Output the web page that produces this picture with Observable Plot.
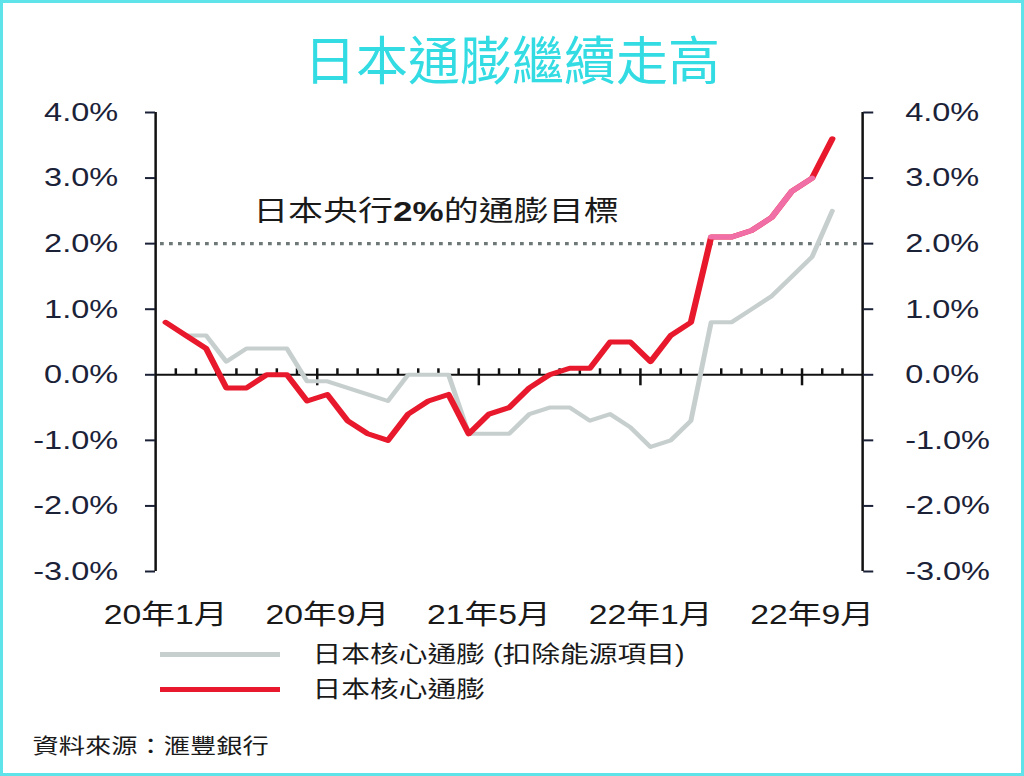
<!DOCTYPE html>
<html><head><meta charset="utf-8">
<script src="https://cdn.jsdelivr.net/npm/d3@7"></script>
<script src="https://cdn.jsdelivr.net/npm/@observablehq/plot@0.6"></script>
<style>
body{margin:0;background:#fff;}
#page{position:relative;width:1024px;height:776px;overflow:hidden;background:#fff;font-family:"Liberation Sans",Arial,"Noto Sans CJK TC",sans-serif;}
#frame{position:absolute;left:0;top:0;width:1024px;height:776px;box-sizing:border-box;border:3px solid #5fe3ea;pointer-events:none;}
#title{position:absolute;left:0;width:1024px;top:32px;text-align:center;font-family:"Noto Sans CJK TC",sans-serif;font-size:52px;line-height:52px;color:#33dbe3;}
#wrap{position:absolute;left:0;top:0;width:820px;height:776px;transform:scaleX(1.25);transform-origin:0 0;}
#chart{position:absolute;left:0;top:0;}
.leg{position:absolute;left:128px;width:96px;height:5px;}
.legt{position:absolute;left:250px;font-size:23px;line-height:23px;color:#1a1a1a;font-family:"Liberation Sans",Arial,"Noto Sans CJK TC",sans-serif;white-space:nowrap;}
#source{position:absolute;left:26px;top:734px;font-size:21px;line-height:21px;color:#1a1a1a;font-family:"Noto Sans CJK TC",sans-serif;white-space:nowrap;}
</style></head>
<body>
<div id="page">
  <div id="title">日本通膨繼續走高</div>
  <div id="wrap">
    <div id="chart"></div>
    <div class="leg" style="top:652px;background:#c7cfce;"></div>
    <div class="legt" style="top:643px;">日本核心通膨 (扣除能源項目)</div>
    <div class="leg" style="top:687px;background:#e8192c;"></div>
    <div class="legt" style="top:678px;">日本核心通膨</div>
    <div id="source">資料來源：滙豐銀行</div>
  </div>
  <div id="frame"></div>
</div>
<script>
// Month categories (x axis), Jan 2020 .. Nov 2022
const months = [
  "2020-01","2020-02","2020-03","2020-04","2020-05","2020-06","2020-07","2020-08","2020-09","2020-10","2020-11","2020-12",
  "2021-01","2021-02","2021-03","2021-04","2021-05","2021-06","2021-07","2021-08","2021-09","2021-10","2021-11","2021-12",
  "2022-01","2022-02","2022-03","2022-04","2022-05","2022-06","2022-07","2022-08","2022-09","2022-10","2022-11"
];
const xTickMonths = ["2020-01","2020-09","2021-05","2022-01","2022-09"];
const xTickLabels = ["20年1月","20年9月","21年5月","22年1月","22年9月"];
const majorTickMonths = ["2020-09","2021-05","2022-01","2022-09"];

// 日本核心通膨 (y/y %)
const coreCPI = [0.8,0.6,0.4,-0.2,-0.2,0.0,0.0,-0.4,-0.3,-0.7,-0.9,-1.0,
                 -0.6,-0.4,-0.3,-0.9,-0.6,-0.5,-0.2,0.0,0.1,0.1,0.5,0.5,
                 0.2,0.6,0.8,2.1,2.1,2.2,2.4,2.8,3.0,3.6];
// 日本核心通膨 (扣除能源項目)
const coreExEnergy = [0.8,0.6,0.6,0.2,0.4,0.4,0.4,-0.1,-0.1,-0.2,-0.3,-0.4,
                      0.0,0.0,0.0,-0.9,-0.9,-0.9,-0.6,-0.5,-0.5,-0.7,-0.6,-0.8,
                      -1.1,-1.0,-0.7,0.8,0.8,1.0,1.2,1.5,1.8,2.5];
const highlightFrom = "2022-04", highlightTo = "2022-09";

const yTicks = [-3,-2,-1,0,1,2,3,4];
const target = [{value: 2, label: "日本央行2%的通膨目標"}];

const series = coreCPI.map((v, i) => ({x: i + 0.5, month: months[i], core: v, ex: coreExEnergy[i]}));
const hi = series.filter(d => d.month >= highlightFrom && d.month <= highlightTo);
const boundaries = months.slice(1).map((m, i) => ({x: i + 1, major: majorTickMonths.includes(m)}));
const fmt = d => d.toFixed(1) + "%";
const xFmt = d => xTickLabels[xTickMonths.indexOf(months[Math.floor(d)])];

const chart = Plot.plot({
  width: 820,
  height: 640,
  marginTop: 112,
  marginBottom: 69,
  marginLeft: 124,
  marginRight: 130.4,
  style: {fontFamily: '"Liberation Sans", Arial, "Noto Sans CJK TC", sans-serif', background: "transparent", color: "#1b2238"},
  x: {domain: [0, months.length], axis: null},
  y: {domain: [yTicks[0], yTicks[yTicks.length - 1]], axis: null},
  marks: [
    Plot.ruleY(target, {y: "value", stroke: "#6e7877", strokeWidth: 3.2, strokeDasharray: "3,4.2", insetLeft: 4, insetRight: 4}),
    Plot.text(target, {y: "value", text: "label", frameAnchor: "left", textAnchor: "start", dx: 78, dy: -32, fontSize: 28, fill: "#1a1a1a"}),
    Plot.ruleY([0], {stroke: "#111", strokeWidth: 2}),
    Plot.ruleX(boundaries.filter(d => !d.major), {x: "x", y1: 0, y2: 0, insetTop: -6, stroke: "#111", strokeWidth: 2}),
    Plot.ruleX(boundaries.filter(d => d.major), {x: "x", y1: 0, y2: 0, insetTop: -6, insetBottom: -11, stroke: "#111", strokeWidth: 2}),
    Plot.ruleX([0, months.length], {x: d => d, y1: yTicks[0], y2: yTicks[yTicks.length - 1], stroke: "#111", strokeWidth: 2}),
    Plot.axisY({anchor: "left", label: null, ticks: yTicks, tickFormat: fmt, tickSize: 8, tickPadding: 22, fontSize: 26, strokeWidth: 2, color: "#1b2238"}),
    Plot.axisY({anchor: "right", label: null, ticks: yTicks, tickFormat: fmt, tickSize: 8, tickPadding: 26, fontSize: 26, strokeWidth: 2, color: "#1b2238"}),
    Plot.axisX({anchor: "bottom", label: null, ticks: xTickMonths.map(m => months.indexOf(m) + 0.5), tickFormat: xFmt, tickSize: 0, tickPadding: 33, fontSize: 27, color: "#1a1a1a"}),
    Plot.line(series, {x: "x", y: "ex", stroke: "#c7cfce", strokeWidth: 4, strokeLinejoin: "round"}),
    Plot.line(series, {x: "x", y: "core", stroke: "#e8192c", strokeWidth: 5, strokeLinejoin: "round"}),
    Plot.line(hi, {x: "x", y: "core", stroke: "#f06fa6", strokeWidth: 5, strokeLinejoin: "round"})
  ]
});
document.getElementById("chart").appendChild(chart);

// make "2%" bold inside the target label
d3.select(chart).selectAll("text").filter(function(){ return this.textContent === target[0].label; }).each(function(){
  const t = d3.select(this);
  const parts = target[0].label.split("2%");
  t.text(null);
  t.append("tspan").text(parts[0]);
  t.append("tspan").attr("font-weight", "bold").text("2%");
  t.append("tspan").text(parts[1]);
});
</script>
</body></html>
